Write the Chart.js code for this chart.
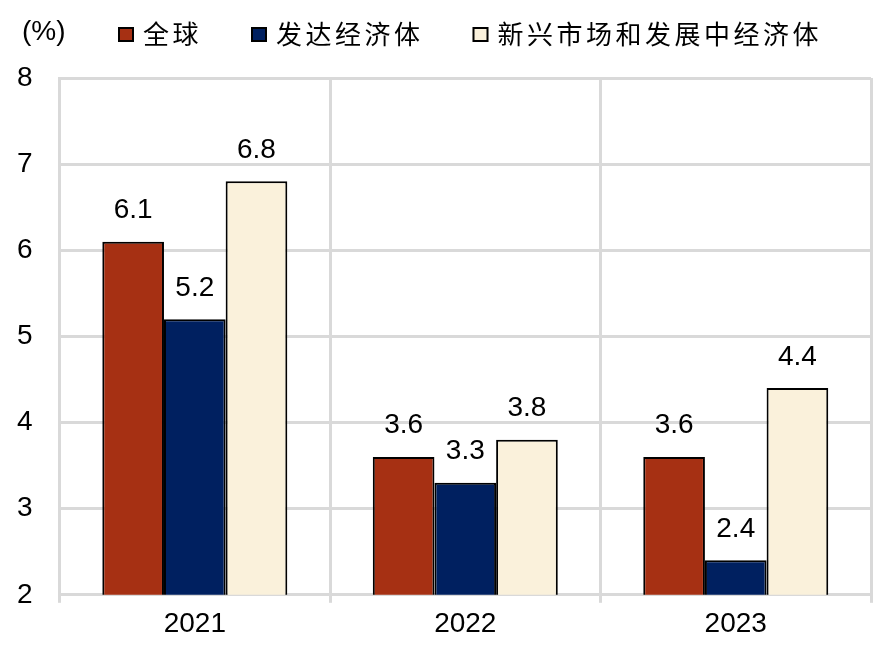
<!DOCTYPE html>
<html>
<head>
<meta charset="utf-8">
<script src="https://cdn.jsdelivr.net/npm/chart.js@4"></script>
<style>
  html, body { margin:0; padding:0; background:#fff; }
  canvas { display:block; }
</style>
</head>
<body>
<canvas id="chart" width="893" height="649"></canvas>
<script>
// ── GDP growth by group, 2021-2023 ──

const YEARS = ['2021', '2022', '2023'];
const SERIES_NAMES = ['全球', '发达经济体', '新兴市场和发展中经济体'];
const WORLD = [6.1, 3.6, 3.6];
const ADVANCED = [5.2, 3.3, 2.4];
const EMERGING = [6.8, 3.8, 4.4];
const UNIT = '(%)';

const COLORS = ['#A63013', '#002060', '#FAF1DB'];
const GRID = '#d9d9d9';
const NUM_FONT = '"Liberation Sans", Arial, sans-serif';
const CJK_FONT = '"Noto Sans CJK SC", sans-serif';

Chart.defaults.font.family = NUM_FONT;
Chart.defaults.font.size = 28;
Chart.defaults.color = '#000';

// value labels above each bar
const valueLabels = {
  id: 'valueLabels',
  afterDatasetsDraw(chart) {
    const ctx = chart.ctx;
    ctx.save();
    ctx.font = '28px ' + NUM_FONT;
    ctx.fillStyle = '#000';
    ctx.textAlign = 'center';
    ctx.textBaseline = 'alphabetic';
    chart.data.datasets.forEach((ds, i) => {
      chart.getDatasetMeta(i).data.forEach((bar, j) => {
        ctx.fillText(ds.data[j].toFixed(1), bar.x, bar.y - 23.5);
      });
    });
    ctx.restore();
  }
};

// unit + legend row across the top
const topLegend = {
  id: 'topLegend',
  afterDraw(chart) {
    const ctx = chart.ctx;
    ctx.save();
    ctx.fillStyle = '#000';
    ctx.textBaseline = 'middle';
    ctx.textAlign = 'left';
    ctx.font = '28px ' + NUM_FONT;
    ctx.fillText(UNIT, 22, 32);

    ctx.font = '26px ' + CJK_FONT;
    if ('letterSpacing' in ctx) ctx.letterSpacing = '3.5px';
    let x = 118;
    chart.data.datasets.forEach(ds => {
      ctx.fillStyle = ds.backgroundColor;
      ctx.fillRect(x, 27, 16, 15);
      ctx.lineWidth = 2;
      ctx.strokeStyle = '#000';
      ctx.strokeRect(x + 1, 28, 14, 13);
      ctx.fillStyle = '#000';
      ctx.fillText(ds.label, x + 25, 34);
      x += 25 + ctx.measureText(ds.label).width + 49;
    });
    ctx.restore();
  }
};

new Chart(document.getElementById('chart'), {
  type: 'bar',
  data: {
    labels: YEARS,
    datasets: [WORLD, ADVANCED, EMERGING].map((vals, i) => ({
      label: SERIES_NAMES[i],
      data: vals,
      backgroundColor: COLORS[i],
      borderColor: '#000',
      borderWidth: 2,
      categoryPercentage: 0.684,
      barPercentage: 1
    }))
  },
  options: {
    responsive: false,
    animation: false,
    layout: { padding: { top: 78, left: 17, right: 22, bottom: 3 } },
    plugins: { legend: { display: false }, tooltip: { enabled: false } },
    scales: {
      x: {
        grid: { color: GRID, lineWidth: 3, offset: true, drawTicks: true, tickLength: 8 },
        border: { color: GRID, width: 3 },
        ticks: { padding: 9, font: { size: 28, lineHeight: 0.9 } }
      },
      y: {
        min: 2, max: 8,
        ticks: { stepSize: 1, padding: 13.5, crossAlign: 'far', font: { size: 28 } },
        grid: { color: GRID, lineWidth: 3, drawTicks: false },
        border: { color: GRID, width: 3 }
      }
    }
  },
  plugins: [valueLabels, topLegend]
});
</script>
</body>
</html>
